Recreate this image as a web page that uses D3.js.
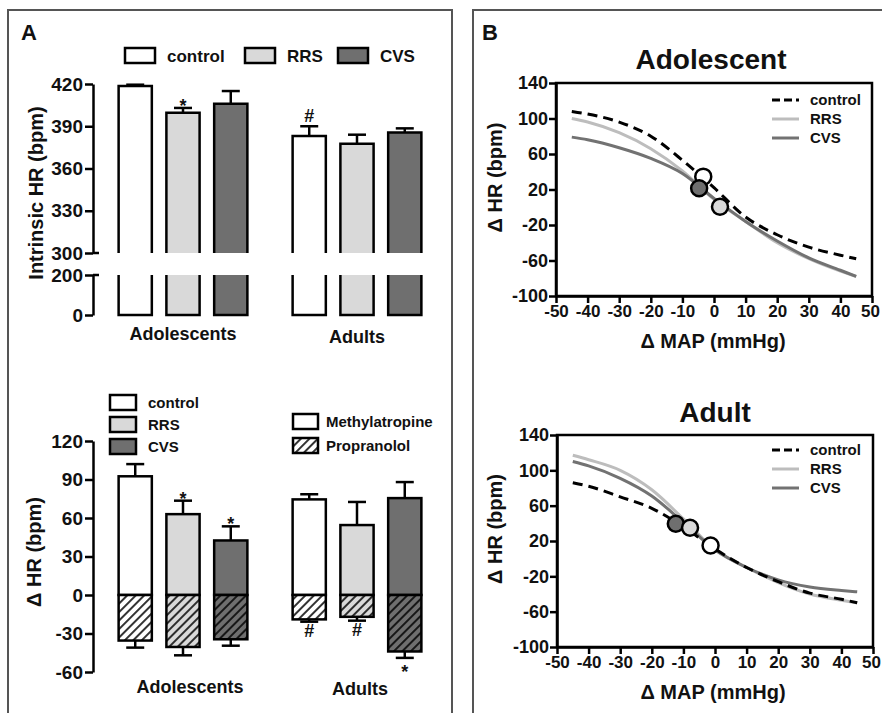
<!DOCTYPE html>
<html>
<head>
<meta charset="utf-8">
<script src="https://cdn.jsdelivr.net/npm/d3@7"></script>
<style>
body { margin: 0; background: #fff; }
text { font-family: "Liberation Sans", Arial, sans-serif; font-weight: bold; fill: #111; }
</style>
</head>
<body>
<svg width="882" height="713"></svg>
<script>
// ---- data ----
var groups = ["Adolescents", "Adults"];
var series = ["control", "RRS", "CVS"];

// A, top: intrinsic heart rate
var intrinsicMean = [[418.5, 399.5, 406], [383, 377.5, 385.5]];
var intrinsicErr  = [[1, 3.5, 9], [7, 6.5, 3]];
var intrinsicSig  = [["", "*", ""], ["#", "", ""]];
var intrinsicTicksHigh = [300, 330, 360, 390, 420];
var intrinsicTicksLow  = [0, 200];

// A, bottom: methylatropine (up) and propranolol (down)
var methylMean = [[92.5, 63, 42.5], [74.5, 54.5, 75.5]];
var methylErr  = [[9.5, 10.5, 11], [4, 18, 12.5]];
var methylSig  = [["", "*", "*"], ["", "", ""]];
var propMean   = [[-35.5, -40.5, -34.5], [-19, -17, -44]];
var propErr    = [[5.5, 6.5, 5], [1.8, 3, 5]];
var propSig    = [["", "", ""], ["#", "#", "*"]];
var dhrTicks   = [-60, -30, 0, 30, 60, 90, 120];
var drugs      = ["Methylatropine", "Propranolol"];

// B: baroreflex curves
var mapX         = [-45, -40, -30, -20, -10, 0, 10, 20, 30, 40, 45];
var adolControl  = [108, 105, 96, 80, 53, 22, -11, -31, -45, -54, -58];
var adolRRS      = [100, 96, 84, 66, 41, 9, -16, -40, -58, -72, -78];
var adolCVS      = [79, 76, 67, 55, 38, 10, -16, -38, -57, -71, -78];
var adultControl = [86, 82, 70, 57, 36, 11, -10, -26, -39, -46, -50];
var adultRRS     = [117, 112, 100, 78, 45, 10, -10, -27, -40, -47, -50];
var adultCVS     = [110, 105, 91, 71, 41, 10, -10, -24, -32, -36, -37.5];
var adolPoints   = [[-3.4, 34.5], [1.9, 0.6], [-4.7, 21.4]];     // control, RRS, CVS
var adultPoints  = [[-1.4, 15], [-7.9, 35], [-12.4, 39.6]];
var mapTicks = [-50, -40, -30, -20, -10, 0, 10, 20, 30, 40, 50];
var bTicks   = [-100, -60, -20, 20, 60, 100, 140];

// ---- styles ----
var fills = {control: "#ffffff", RRS: "#d9d9d9", CVS: "#6f6f6f"};
var lineCol = {control: "#000", RRS: "#bdbdbd", CVS: "#727272"};

var svg = d3.select("svg");
svg.append("rect").attr("width", 882).attr("height", 713).attr("fill", "#fff");

// hatch patterns
var defs = svg.append("defs");
series.forEach(function(s) {
    var p = defs.append("pattern")
        .attr("id", "hatch-" + s)
        .attr("patternUnits", "userSpaceOnUse")
        .attr("width", 6).attr("height", 6)
        .attr("patternTransform", "rotate(45)");
    p.append("rect").attr("width", 6).attr("height", 6).attr("fill", fills[s]);
    p.append("line").attr("x1", 1).attr("x2", 1).attr("y1", 0).attr("y2", 6)
        .attr("stroke", "#000").attr("stroke-width", 1.6);
});

// panel frames
svg.append("rect").attr("x", 8).attr("y", 10).attr("width", 444).attr("height", 720)
    .attr("fill", "none").attr("stroke", "#555").attr("stroke-width", 2);
svg.append("rect").attr("x", 473).attr("y", 10).attr("width", 430).attr("height", 720)
    .attr("fill", "none").attr("stroke", "#555").attr("stroke-width", 2);
svg.append("text").attr("x", 21).attr("y", 40).style("font-size", "22px").text("A");
svg.append("text").attr("x", 482).attr("y", 40).style("font-size", "22px").text("B");

// shared x scales for panel A
var x0 = d3.scaleBand().domain(groups).range([96, 444]).paddingInner(0.26).paddingOuter(0.13);
var x1 = d3.scaleBand().domain(series).range([0, x0.bandwidth()]).paddingInner(0.305);

var plain = function(d) { return String(d); };   // keep the ascii hyphen like the original

function styleAxis(g, size) {
    g.selectAll("path.domain").attr("stroke", "#000").attr("stroke-width", 2.5);
    g.selectAll(".tick line").attr("stroke", "#000").attr("stroke-width", 2.5);
    g.selectAll(".tick text").style("font-size", size + "px").style("font-family", "'Liberation Sans', Arial, sans-serif")
        .style("font-weight", "bold").attr("fill", "#111");
}

// ===== A top: intrinsic HR with axis break =====
var yUp = d3.scaleLinear().domain([300, 420]).range([253, 84]);
var yLo = d3.scaleLinear().domain([0, 200]).range([315, 275]);
var gTop = svg.append("g");

var gUp = gTop.append("g").attr("transform", "translate(93,0)")
    .call(d3.axisLeft(yUp).tickValues(intrinsicTicksHigh).tickFormat(plain).tickSize(8).tickSizeOuter(0).tickPadding(2));
styleAxis(gUp, 19);
var gLo = gTop.append("g").attr("transform", "translate(93,0)")
    .call(d3.axisLeft(yLo).tickValues(intrinsicTicksLow).tickFormat(plain).tickSize(8).tickSizeOuter(0).tickPadding(2));
styleAxis(gLo, 19);
// break caps
[yUp(300), yLo(200)].forEach(function(y) {
    gTop.append("line").attr("x1", 93).attr("x2", 99).attr("y1", y).attr("y2", y)
        .attr("stroke", "#000").attr("stroke-width", 2.5);
});

var bars = [];
groups.forEach(function(g, gi) {
    series.forEach(function(s, si) {
        bars.push({g: g, s: s, v: intrinsicMean[gi][si], e: intrinsicErr[gi][si], sig: intrinsicSig[gi][si],
                   m: methylMean[gi][si], me: methylErr[gi][si], msig: methylSig[gi][si],
                   p: propMean[gi][si], pe: propErr[gi][si], psig: propSig[gi][si]});
    });
});
function bx(d) { return x0(d.g) + x1(d.s); }
var bw = x1.bandwidth();

bars.forEach(function(d) {
    var x = bx(d), cx = x + bw / 2;
    // error bar
    gTop.append("line").attr("x1", cx).attr("x2", cx).attr("y1", yUp(d.v)).attr("y2", yUp(d.v + d.e))
        .attr("stroke", "#000").attr("stroke-width", 2.5);
    gTop.append("line").attr("x1", cx - 9).attr("x2", cx + 9).attr("y1", yUp(d.v + d.e)).attr("y2", yUp(d.v + d.e))
        .attr("stroke", "#000").attr("stroke-width", 2.5);
    // upper piece
    gTop.append("rect").attr("x", x).attr("y", yUp(d.v)).attr("width", bw).attr("height", yUp(300) - yUp(d.v))
        .attr("fill", fills[d.s]);
    gTop.append("path").attr("d", "M" + x + "," + yUp(300) + "V" + yUp(d.v) + "H" + (x + bw) + "V" + yUp(300))
        .attr("fill", "none").attr("stroke", "#000").attr("stroke-width", 2.5);
    // lower piece
    gTop.append("rect").attr("x", x).attr("y", yLo(200)).attr("width", bw).attr("height", yLo(0) - yLo(200))
        .attr("fill", fills[d.s]);
    gTop.append("path").attr("d", "M" + x + "," + yLo(200) + "V" + yLo(0) + "H" + (x + bw) + "V" + yLo(200))
        .attr("fill", "none").attr("stroke", "#000").attr("stroke-width", 2.5);
    if (d.sig) {
        gTop.append("text").attr("x", cx).attr("y", yUp(d.v + d.e) - 4 + (d.sig === "*" ? 8 : 0))
            .attr("text-anchor", "middle").style("font-size", "18px").text(d.sig);
    }
});

gTop.selectAll("text.cat").data(groups).enter().append("text").attr("class", "cat")
    .attr("x", function(g) { return x0(g) + x0.bandwidth() / 2; })
    .attr("y", function(g, i) { return 340 + i * 3; })
    .attr("text-anchor", "middle").style("font-size", "18px").text(function(g) { return g; });

gTop.append("text").attr("transform", "translate(43,193) rotate(-90)").attr("text-anchor", "middle")
    .style("font-size", "20px").text("Intrinsic HR (bpm)");

// legend top
var legTopX = [125, 245, 338];
series.forEach(function(s, i) {
    gTop.append("rect").attr("x", legTopX[i]).attr("y", 48).attr("width", 30).attr("height", 15)
        .attr("fill", fills[s]).attr("stroke", "#000").attr("stroke-width", 2.5);
    gTop.append("text").attr("x", legTopX[i] + 42).attr("y", 62).style("font-size", "17px").text(s);
});

// ===== A bottom: autonomic blockade =====
var yB = d3.scaleLinear().domain([-60, 120]).range([672, 441]);
var gBot = svg.append("g");
var gB = gBot.append("g").attr("transform", "translate(93,0)")
    .call(d3.axisLeft(yB).tickValues(dhrTicks).tickFormat(plain).tickSize(8).tickSizeOuter(0).tickPadding(2));
styleAxis(gB, 19);

bars.forEach(function(d) {
    var x = bx(d), cx = x + bw / 2;
    // methylatropine error
    gBot.append("line").attr("x1", cx).attr("x2", cx).attr("y1", yB(d.m)).attr("y2", yB(d.m + d.me))
        .attr("stroke", "#000").attr("stroke-width", 2.5);
    gBot.append("line").attr("x1", cx - 9).attr("x2", cx + 9).attr("y1", yB(d.m + d.me)).attr("y2", yB(d.m + d.me))
        .attr("stroke", "#000").attr("stroke-width", 2.5);
    // propranolol error
    gBot.append("line").attr("x1", cx).attr("x2", cx).attr("y1", yB(d.p)).attr("y2", yB(d.p - d.pe))
        .attr("stroke", "#000").attr("stroke-width", 2.5);
    gBot.append("line").attr("x1", cx - 9).attr("x2", cx + 9).attr("y1", yB(d.p - d.pe)).attr("y2", yB(d.p - d.pe))
        .attr("stroke", "#000").attr("stroke-width", 2.5);
    gBot.append("rect").attr("x", x).attr("y", yB(d.m)).attr("width", bw).attr("height", yB(0) - yB(d.m))
        .attr("fill", fills[d.s]).attr("stroke", "#000").attr("stroke-width", 2.5);
    gBot.append("rect").attr("x", x).attr("y", yB(0)).attr("width", bw).attr("height", yB(d.p) - yB(0))
        .attr("fill", "url(#hatch-" + d.s + ")").attr("stroke", "#000").attr("stroke-width", 2.5);
    if (d.msig) {
        gBot.append("text").attr("x", cx).attr("y", yB(d.m + d.me) + 4).attr("text-anchor", "middle")
            .style("font-size", "18px").text(d.msig);
    }
    if (d.psig) {
        gBot.append("text").attr("x", cx).attr("y", yB(d.p - d.pe) + (d.psig === "*" ? 20 : 15))
            .attr("text-anchor", "middle").style("font-size", "18px").text(d.psig);
    }
});

gBot.selectAll("text.cat").data(groups).enter().append("text").attr("class", "cat")
    .attr("x", function(g, i) { return x0(g) + x0.bandwidth() / 2 + (i ? 3 : 7); })
    .attr("y", function(g, i) { return 693 + i * 2; })
    .attr("text-anchor", "middle").style("font-size", "18px").text(function(g) { return g; });

gBot.append("text").attr("transform", "translate(41,552) rotate(-90)").attr("text-anchor", "middle")
    .style("font-size", "20px").text("\u0394 HR (bpm)");

// legends bottom
series.forEach(function(s, i) {
    var y = 395 + i * 22;
    gBot.append("rect").attr("x", 110).attr("y", y).attr("width", 26).attr("height", 15)
        .attr("fill", fills[s]).attr("stroke", "#000").attr("stroke-width", 2.5);
    gBot.append("text").attr("x", 148).attr("y", y + 13).style("font-size", "15px").text(s);
});
drugs.forEach(function(dr, i) {
    var y = 414 + i * 24;
    gBot.append("rect").attr("x", 293).attr("y", y).attr("width", 25).attr("height", 15)
        .attr("fill", i ? "url(#hatch-control)" : "#fff").attr("stroke", "#000").attr("stroke-width", 2.5);
    gBot.append("text").attr("x", 326).attr("y", y + 13).style("font-size", "15px").text(dr);
});

// ===== B: baroreflex curves =====
function curvePanel(cfg) {
    var g = svg.append("g");
    var x = d3.scaleLinear().domain([-50, 50]).range([cfg.x0, cfg.x1]);
    var y = d3.scaleLinear().domain([-100, 140]).range([cfg.y1, cfg.y0]);

    g.append("text").attr("x", cfg.tx).attr("y", cfg.ty).attr("text-anchor", "middle")
        .style("font-size", "28px").text(cfg.title);

    var ax = g.append("g").attr("transform", "translate(0," + cfg.y1 + ")")
        .call(d3.axisBottom(x).tickValues(mapTicks).tickFormat(plain).tickSize(7).tickSizeOuter(0).tickPadding(2));
    var ay = g.append("g").attr("transform", "translate(" + cfg.x0 + ",0)")
        .call(d3.axisLeft(y).tickValues(bTicks).tickFormat(plain).tickSize(7).tickSizeOuter(0).tickPadding(1));
    styleAxis(ax, 17);
    styleAxis(ay, 18);
    // last label sits against the page edge, like the original
    ax.selectAll(".tick text").filter(function(d) { return d === 50; }).attr("dx", -2);
    g.append("rect").attr("x", cfg.x0).attr("y", cfg.y0).attr("width", cfg.x1 - cfg.x0)
        .attr("height", cfg.y1 - cfg.y0).attr("fill", "none").attr("stroke", "#000").attr("stroke-width", 2.5);

    var line = d3.line().curve(d3.curveMonotoneX)
        .x(function(d) { return x(d[0]); }).y(function(d) { return y(d[1]); });
    ["RRS", "CVS", "control"].forEach(function(s) {
        var pts = mapX.map(function(v, i) { return [v, cfg.curves[s][i]]; });
        g.append("path").datum(pts).attr("d", line).attr("fill", "none")
            .attr("stroke", lineCol[s]).attr("stroke-width", 3)
            .attr("stroke-dasharray", s === "control" ? "10,6" : null);
    });
    [0, 2, 1].forEach(function(i) {
        g.append("circle").attr("cx", x(cfg.points[i][0])).attr("cy", y(cfg.points[i][1])).attr("r", 8)
            .attr("fill", fills[series[i]]).attr("stroke", "#000").attr("stroke-width", 2.5);
    });

    // legend
    series.forEach(function(s, i) {
        var ly = cfg.ly + i * 19;
        g.append("line").attr("x1", 772).attr("x2", 799).attr("y1", ly).attr("y2", ly)
            .attr("stroke", lineCol[s]).attr("stroke-width", 3)
            .attr("stroke-dasharray", s === "control" ? "8,4" : null);
        g.append("text").attr("x", 810).attr("y", ly + 5).style("font-size", "15px").text(s);
    });

    g.append("text").attr("x", 713).attr("y", cfg.y1 + 52).attr("text-anchor", "middle")
        .style("font-size", "20px").text("\u0394 MAP (mmHg)");
    g.append("text").attr("transform", "translate(502," + ((cfg.y0 + cfg.y1) / 2 - 12) + ") rotate(-90)")
        .attr("text-anchor", "middle").style("font-size", "20px").text("\u0394 HR (bpm)");
}

curvePanel({title: "Adolescent", tx: 711, ty: 69, x0: 556, x1: 872, y0: 83, y1: 296, ly: 100,
    curves: {control: adolControl, RRS: adolRRS, CVS: adolCVS}, points: adolPoints});
curvePanel({title: "Adult", tx: 715, ty: 422, x0: 557, x1: 873, y0: 435, y1: 647, ly: 450,
    curves: {control: adultControl, RRS: adultRRS, CVS: adultCVS}, points: adultPoints});
</script>
</body>
</html>
